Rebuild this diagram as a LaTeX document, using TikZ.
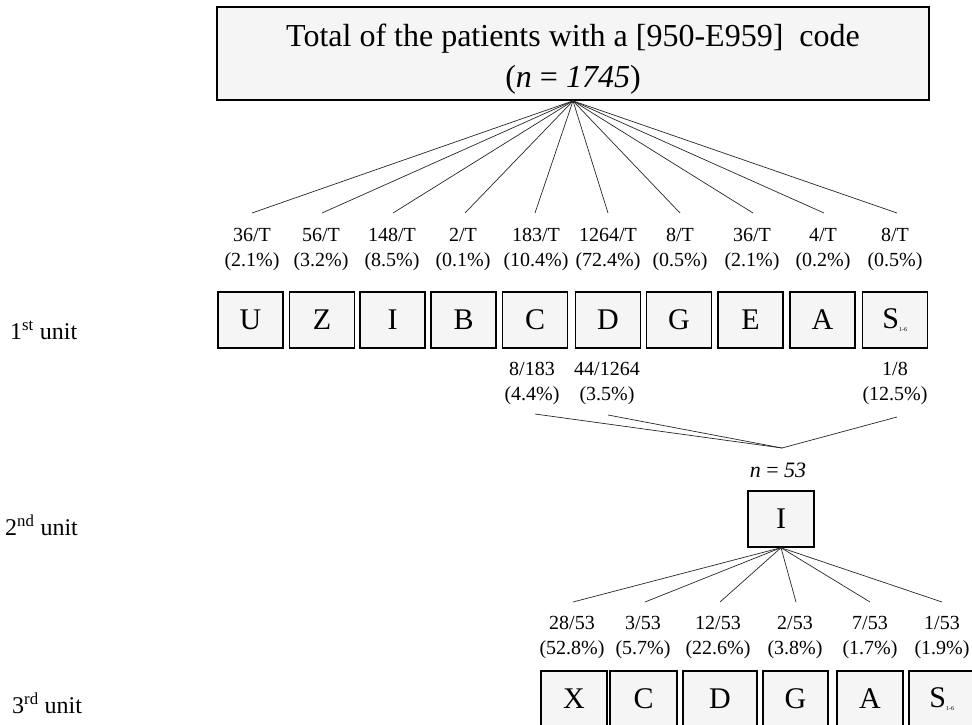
\documentclass[tikz,border=0pt]{standalone}
\usepackage{fontspec}
\setmainfont{Liberation Serif}
\begin{document}
\begin{tikzpicture}[x=1pt,y=-1pt,
  box/.style={draw=black, line width=1.4pt, fill=gray!8, minimum width=65pt, minimum height=56pt, inner sep=0pt, font=\fontsize{30}{30}\selectfont},
  lab/.style={align=center, inner sep=0pt, font=\fontsize{20}{25}\selectfont},
  conn/.style={draw=black!85, line width=0.7pt},
  unitlab/.style={anchor=west, inner sep=0pt, font=\fontsize{24}{26}\selectfont}]
\useasboundingbox (0,0) rectangle (972,725);
\clip (0,0) rectangle (972,725);

% top box
\node[draw=black, line width=1.8pt, fill=gray!8, minimum width=712pt, minimum height=93pt, inner sep=0pt] (top) at (573,53.5) {};
\node[align=center, inner sep=0pt, font=\fontsize{32}{41}\selectfont] (toptxt) at (573,59)
  {Total of the patients with a [950-E959]~ code\strut\\(\textit{n} = \textit{1745})\strut};

% unit labels
\node[unitlab] (u1) at (10,330) {1\textsuperscript{st} unit};
\node[unitlab] (u2) at (5,525) {2\textsuperscript{nd} unit};
\node[unitlab] (u3) at (12,703) {3\textsuperscript{rd} unit};

% first level labels
\node[lab] (l1) at (252,249) {36/T\strut\\(2.1\%)\strut};
\node[lab] (l2) at (321,249) {56/T\strut\\(3.2\%)\strut};
\node[lab] (l3) at (392,249) {148/T\strut\\(8.5\%)\strut};
\node[lab] (l4) at (463,249) {2/T\strut\\(0.1\%)\strut};
\node[lab] (l5) at (536,249) {183/T\strut\\(10.4\%)\strut};
\node[lab] (l6) at (608,249) {1264/T\strut\\(72.4\%)\strut};
\node[lab] (l7) at (680,249) {8/T\strut\\(0.5\%)\strut};
\node[lab] (l8) at (752,249) {36/T\strut\\(2.1\%)\strut};
\node[lab] (l9) at (823,249) {4/T\strut\\(0.2\%)\strut};
\node[lab] (l10) at (895,249) {8/T\strut\\(0.5\%)\strut};

\coordinate (e1) at (252,213);
\coordinate (e2) at (322,213);
\coordinate (e3) at (393,213);
\coordinate (e4) at (465,213);
\coordinate (e5) at (535,213);
\coordinate (e6) at (608,213);
\coordinate (e7) at (680,213);
\coordinate (e8) at (753,213);
\coordinate (e9) at (824,213);
\coordinate (e10) at (897,213);
\foreach \i in {1,...,10} \draw[conn] (top.south) -- (e\i);

% first level boxes
\node[box] (bU) at (250.5,320) {U};
\node[box] (bZ) at (322,320) {Z};
\node[box] (bI) at (392.5,320) {I};
\node[box] (bB) at (463.5,320) {B};
\node[box] (bC) at (535,320) {C};
\node[box, line width=1.8pt] (bD) at (608,320) {D};
\node[box] (bG) at (679,320) {G};
\node[box] (bE) at (750.5,320) {E};
\node[box] (bA) at (822.5,320) {A};
\node[box] (bS) at (895,320) {S\textsubscript{\fontsize{6}{6}\selectfont 1-6}};

% second level labels
\node[lab] (m1) at (532,383) {8/183\strut\\(4.4\%)\strut};
\node[lab] (m2) at (607,383) {44/1264\strut\\(3.5\%)\strut};
\node[lab] (m3) at (895,383) {1/8\strut\\(12.5\%)\strut};
\coordinate (f1) at (535,414);
\coordinate (f2) at (608,415);
\coordinate (f3) at (897,417);
\coordinate (mid) at (782,448);
\foreach \i in {1,2,3} \draw[conn] (f\i) -- (mid);

\node[inner sep=0pt, font=\fontsize{22}{24}\selectfont] (n53) at (778,470) {\textit{n} = \textit{53}};

% second unit box
\node[box, minimum width=66pt] (II) at (781,519) {I};

% third level labels
\node[lab] (k1) at (572,637) {28/53\strut\\(52.8\%)\strut};
\node[lab] (k2) at (643,637) {3/53\strut\\(5.7\%)\strut};
\node[lab] (k3) at (718,637) {12/53\strut\\(22.6\%)\strut};
\node[lab] (k4) at (795,637) {2/53\strut\\(3.8\%)\strut};
\node[lab] (k5) at (870,637) {7/53\strut\\(1.7\%)\strut};
\node[lab] (k6) at (942,637) {1/53\strut\\(1.9\%)\strut};
\coordinate (g1) at (573,602);
\coordinate (g2) at (645,602);
\coordinate (g3) at (720,602);
\coordinate (g4) at (796,602);
\coordinate (g5) at (870,602);
\coordinate (g6) at (942,602);
\foreach \i in {1,...,6} \draw[conn] (II.south) -- (g\i);

% third level boxes
\node[box, minimum width=66pt] (cX) at (574,699) {X};
\node[box, minimum width=67pt] (cC) at (643.5,699) {C};
\node[box, minimum width=74pt] (cD) at (720,699) {D};
\node[box, minimum width=65pt] (cG) at (795.5,699) {G};
\node[box, minimum width=66pt] (cA) at (870,699) {A};
\node[box, minimum width=66pt] (cS) at (942,699) {S\textsubscript{\fontsize{6}{6}\selectfont 1-6}};
\end{tikzpicture}
\end{document}
